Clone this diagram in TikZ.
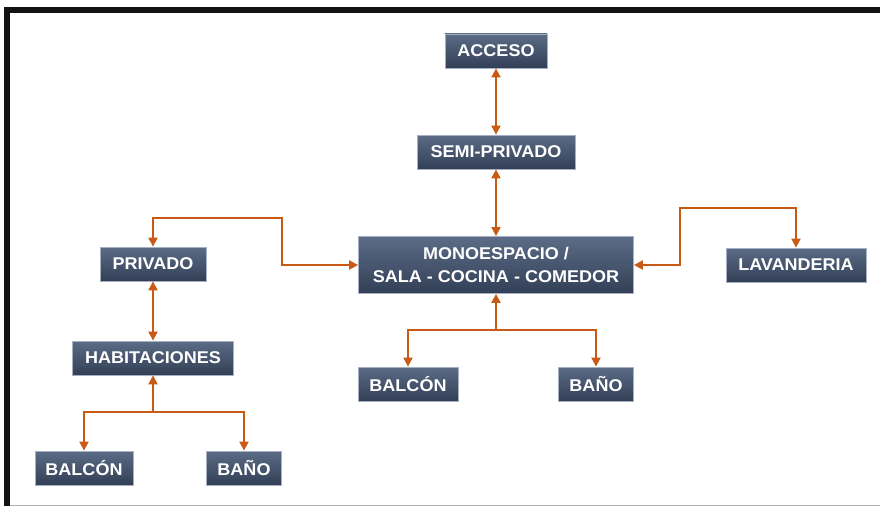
\documentclass[tikz,border=0pt]{standalone}
\usepackage{fontspec}
\setmainfont{Liberation Sans}
\newfontfamily\boxfont{Liberation Sans}[FakeStretch=1.06]
\usepackage{tikz}
\usepackage{xcolor}
\usetikzlibrary{arrows.meta, calc}

\definecolor{linkorange}{RGB}{200,90,22}
\definecolor{boxtop}{RGB}{92,108,134}
\definecolor{boxbot}{RGB}{50,63,86}
\definecolor{boxedge}{RGB}{165,176,194}

\tikzset{
    roombox/.style={rectangle, top color=boxtop, bottom color=boxbot, draw=boxedge, line width=0.8pt,
        text=white, inner sep=0pt, minimum height=34pt, align=center,
        font=\boxfont\bfseries\fontsize{17}{23}\selectfont},
    link/.style={draw=linkorange, line width=2pt, {Triangle[length=9pt,width=9pt]}-{Triangle[length=9pt,width=9pt]}},
    linkto/.style={draw=linkorange, line width=2pt, -{Triangle[length=9pt,width=9pt]}}
}

\begin{document}
\begin{tikzpicture}[x=1pt, y=-1pt]
                        \useasboundingbox (0,0) rectangle (880,508);
                        % frame
                        \fill[black!93] (4,7) rectangle (880,13);
                        \fill[black!93] (4,7) rectangle (10,506);
                        \draw[black!30, line width=1.5pt] (10,505.5) -- (880,505.5);
                        \node[roombox, minimum width=102pt] (acceso) at (496, 51) {ACCESO};
                        \node[roombox, minimum width=158pt] (semi) at (496, 152) {SEMI-PRIVADO};
                        \node[roombox, minimum width=275pt, minimum height=57pt] (mono) at (496, 265) {MONOESPACIO /\\SALA - COCINA - COMEDOR};
                        \node[roombox, minimum width=106pt] (privado) at (153, 264) {PRIVADO};
                        \node[roombox, minimum width=140pt] (lav) at (796, 265) {LAVANDERIA};
                        \node[roombox, minimum width=161pt] (hab) at (153, 358) {HABITACIONES};
                        \node[roombox, minimum width=100pt] (balcon2) at (408, 384) {BALCÓN};
                        \node[roombox, minimum width=75pt] (bano2) at (596, 384) {BAÑO};
                        \node[roombox, minimum width=98pt] (balcon1) at (84, 468) {BALCÓN};
                        \node[roombox, minimum width=75pt] (bano1) at (244, 468) {BAÑO};
                        \coordinate (k1) at (282, 218);
                        \coordinate (k2) at (680, 208);
                        \coordinate (j1) at (153, 412);
                        \coordinate (j2) at (496, 330);
                        \draw[link] (acceso) -- (semi);
                        \draw[link] (semi) -- (mono);
                        \draw[link] (privado.north) |- (k1) |- (mono.west);
                        \draw[link] (mono.east) -| (k2) -| (lav.north);
                        \draw[link] (privado) -- (hab);
                        \draw[linkto] (j1) -- (hab.south);
                        \draw[linkto] (j1) -| (balcon1.north);
                        \draw[linkto] (j1) -| (bano1.north);
                        \draw[linkto] (j2) -- (mono.south);
                        \draw[linkto] (j2) -| (balcon2.north);
                        \draw[linkto] (j2) -| (bano2.north);
                    \end{tikzpicture}
\end{document}
